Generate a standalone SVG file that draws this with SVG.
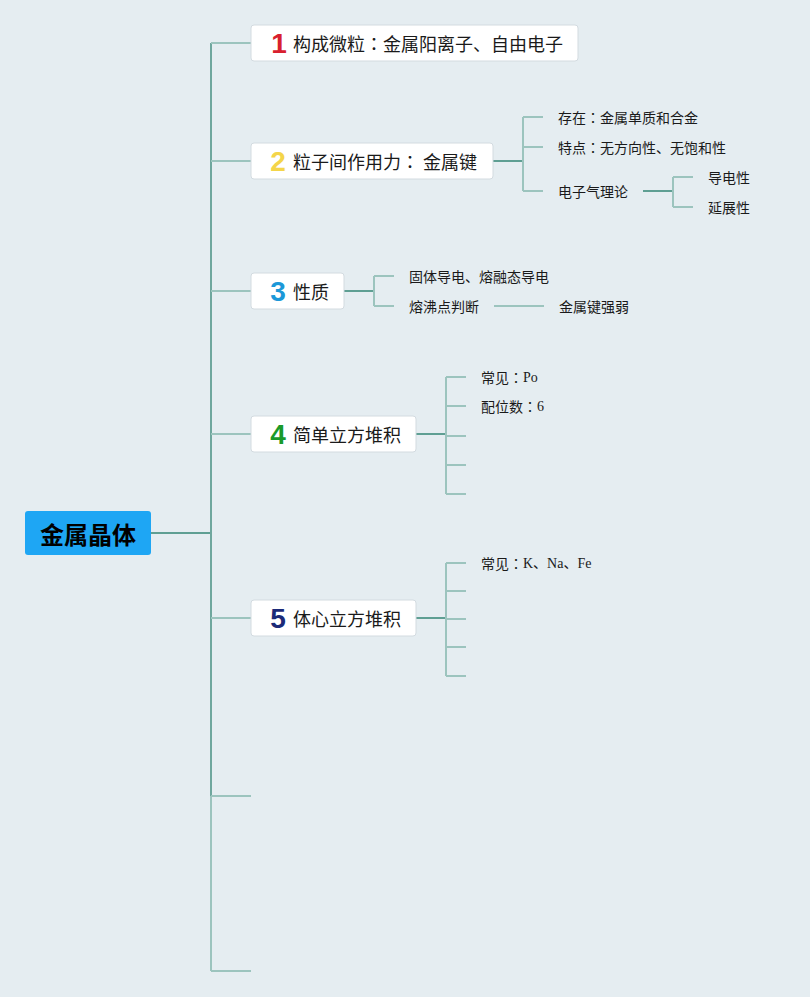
<svg xmlns="http://www.w3.org/2000/svg" width="810" height="997" viewBox="0 0 810 997">
<style>
.bg{fill:#e5edf1}
.trunk{stroke:#6fa79e;stroke-width:2;fill:none}
.br{stroke:#9cc4be;stroke-width:2;fill:none}
.lk{stroke:#5f9f93;stroke-width:2;fill:none}
.box{fill:#ffffff;stroke:#d3dbe0;stroke-width:1}
.t{font-family:"Noto Sans CJK SC","Noto Sans",sans-serif;font-size:18px;fill:#1a1a1a;dominant-baseline:central}
.c{font-family:"Noto Sans CJK SC","Noto Sans",sans-serif;font-size:14px;fill:#1a1a1a;dominant-baseline:central}
.s{font-family:"Liberation Serif","Noto Sans CJK SC",serif}
.k{font-family:"Noto Sans CJK TC",sans-serif}
.n{font-family:"Liberation Sans","DejaVu Sans",sans-serif;font-size:28px;font-weight:bold;dominant-baseline:central;text-anchor:middle}
</style>
<rect class="bg" x="0" y="0" width="810" height="997"/>
<g id="connectors">
<path class="lk" d="M151 533H211"/>
<path class="trunk" d="M211 43V796"/>
<path class="br" d="M211 796V971"/>
<path class="br" d="M211 43H251M211 161H251M211 291H251M211 434H251M211 618H251M211 796H251M211 971H251"/>
<path class="lk" d="M493 161H523"/>
<path class="br" d="M523 117V191M523 117H543M523 147H543M523 191H543"/>
<path class="lk" d="M643 191H673"/>
<path class="br" d="M673 177V207M673 177H693M673 207H693"/>
<path class="lk" d="M344 291H374"/>
<path class="br" d="M374 276V306M374 276H394M374 306H394"/>
<path class="br" d="M494 306H544"/>
<path class="lk" d="M416 434H446"/>
<path class="br" d="M446 377V494M446 377H466M446 406H466M446 436H466M446 465H466M446 494H466"/>
<path class="lk" d="M416 618H446"/>
<path class="br" d="M446 563V676M446 563H466M446 591H466M446 619H466M446 647H466M446 676H466"/>
</g>
<g id="root">
<rect x="25" y="511" width="126" height="44" rx="3" fill="#1ea6f4"/>
<text x="88" y="533" font-family="Noto Sans CJK SC,sans-serif" font-size="24" font-weight="bold" fill="#000" text-anchor="middle" dominant-baseline="central">金属晶体</text>
</g>
<g id="node1">
<rect class="box" x="251" y="25" width="327" height="36" rx="3"/>
<text class="n" x="279" y="43" fill="#d8202e">1</text>
<text class="t" x="293" y="43">构成微粒<tspan class="k">：</tspan>金属阳离子、自由电子</text>
</g>
<g id="node2">
<rect class="box" x="251" y="143" width="242" height="36" rx="3"/>
<text class="n" x="278" y="161" fill="#f4d54a">2</text>
<text class="t" x="293" y="161">粒子间作用力<tspan class="k">：</tspan> 金属键</text>
</g>
<g id="n2a"><text class="c" x="558" y="117">存在<tspan class="k">：</tspan>金属单质和合金</text></g>
<g id="n2b"><text class="c" x="558" y="147">特点<tspan class="k">：</tspan>无方向性、无饱和性</text></g>
<g id="n2c"><text class="c" x="558" y="191">电子气理论</text></g>
<g id="n2c1"><text class="c" x="708" y="177">导电性</text></g>
<g id="n2c2"><text class="c" x="708" y="207">延展性</text></g>
<g id="node3">
<rect class="box" x="251" y="273" width="93" height="36" rx="3"/>
<text class="n" x="278" y="291" fill="#1c98d8">3</text>
<text class="t" x="293" y="291">性质</text>
</g>
<g id="n3a"><text class="c" x="409" y="276">固体导电、熔融态导电</text></g>
<g id="n3b"><text class="c" x="409" y="306">熔沸点判断</text></g>
<g id="n3b1"><text class="c" x="559" y="306">金属键强弱</text></g>
<g id="node4">
<rect class="box" x="251" y="416" width="165" height="36" rx="3"/>
<text class="n" x="278" y="434" fill="#1a9a2a">4</text>
<text class="t" x="293" y="434">简单立方堆积</text>
</g>
<g id="n4a"><text class="c" x="481" y="377">常见<tspan class="k">：</tspan><tspan class="s">Po</tspan></text></g>
<g id="n4b"><text class="c" x="481" y="406">配位数<tspan class="k">：</tspan><tspan class="s">6</tspan></text></g>
<g id="node5">
<rect class="box" x="251" y="600" width="165" height="36" rx="3"/>
<text class="n" x="278" y="618" fill="#1b2a78">5</text>
<text class="t" x="293" y="618">体心立方堆积</text>
</g>
<g id="n5a"><text class="c" x="481" y="563">常见<tspan class="k">：</tspan><tspan class="s">K、Na、Fe</tspan></text></g>
</svg>
